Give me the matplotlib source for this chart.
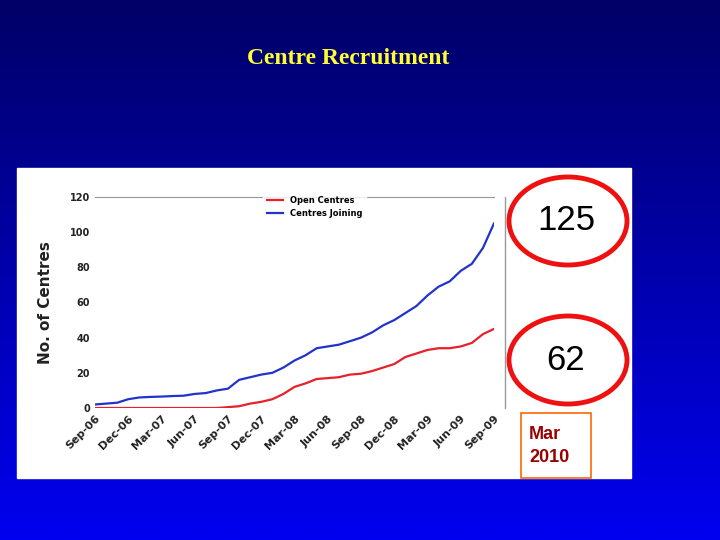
import matplotlib
matplotlib.use("Agg")
import matplotlib.pyplot as plt
import numpy as np
from matplotlib.patches import Ellipse, Rectangle

months = ["Sep-06","Oct-06","Nov-06","Dec-06","Jan-07","Feb-07","Mar-07","Apr-07","May-07","Jun-07","Jul-07","Aug-07",
          "Sep-07","Oct-07","Nov-07","Dec-07","Jan-08","Feb-08","Mar-08","Apr-08","May-08","Jun-08","Jul-08","Aug-08",
          "Sep-08","Oct-08","Nov-08","Dec-08","Jan-09","Feb-09","Mar-09","Apr-09","May-09","Jun-09","Jul-09","Aug-09","Sep-09"]
joining = [2,2.5,3,5,6,6.3,6.5,6.8,7,8,8.5,10,11,16,17.5,19,20,23,27,30,34,35,36,38,40,43,47,50,54,58,64,69,72,78,82,91,105]
open_c = [0,0,0,0,0,0,0,0,0,0,0,0,0.5,1,2.5,3.5,5,8,12,14,16.5,17,17.5,19,19.5,21,23,25,29,31,33,34,34,35,37,42,45]
tick_labels = months[::3]

W, H = 720, 540
fig = plt.figure(figsize=(W/100, H/100), dpi=100)
bg = fig.add_axes([0, 0, 1, 1])
grad = np.linspace(0, 1, 256).reshape(-1, 1)
from matplotlib.colors import LinearSegmentedColormap
cmap = LinearSegmentedColormap.from_list("b", ["#000066", "#0000f0"])
bg.imshow(grad, aspect="auto", cmap=cmap, extent=[0, W, 0, H], origin="lower")
bg.set_xlim(0, W); bg.set_ylim(H, 0); bg.axis("off")

bg.text(348, 58, "Centre Recruitment", color="#ffff33", fontsize=17, fontweight="bold",
        family="Liberation Serif", ha="center", va="center")
bg.add_patch(Rectangle((17, 168), 614, 310, color="white"))

def fx(x): return x / W
def fy(y): return 1 - y / H
ax = fig.add_axes([fx(95), fy(408), fx(494-95), (408-197)/H])
x = np.arange(len(months))
ax.plot(x, open_c, color="#e8202a", lw=1.6, label="Open Centres")
ax.plot(x, joining, color="#2233cc", lw=1.6, label="Centres Joining")
ax.set_xlim(0, len(months)-1)
ax.set_ylim(0, 120)
ax.set_yticks(range(0, 121, 20))
ax.set_xticks(x[::3])
ax.set_xticklabels(tick_labels, rotation=45, ha="right", rotation_mode="anchor", fontsize=8, fontweight="bold", color="#222222")
ax.tick_params(axis="y", labelsize=7, length=0, labelcolor="#222222")
ax.tick_params(axis="x", length=0, pad=4)
for lbl in ax.get_yticklabels(): lbl.set_fontweight("bold")
for s in ["left", "right", "bottom"]: ax.spines[s].set_visible(False)
ax.spines["top"].set_color("#999999")
ax.set_ylabel("No. of Centres", fontsize=11, fontweight="bold", color="#222222", labelpad=12)
ax.patch.set_alpha(0)
leg = ax.legend(loc="upper center", bbox_to_anchor=(0.55, 1.04), fontsize=6, frameon=True, handlelength=2)
leg.get_frame().set_edgecolor("white")
for t in leg.get_texts(): t.set_fontweight("bold")
bg.plot([505, 505], [197, 408], color="#999999", lw=1)

for cy, txt in [(221, "125"), (360, "62")]:
    bg.add_patch(Ellipse((568, cy), 118, 88, facecolor="white", edgecolor="#ee1111", lw=3.5))
    bg.text(566, cy, txt, fontsize=25, family="Liberation Sans", ha="center", va="center", color="black")
bg.add_patch(Rectangle((521, 413), 70, 65, facecolor="white", edgecolor="#ff6600", lw=1.2))
bg.text(529, 446, "Mar\n2010", fontsize=13, fontweight="bold", family="Liberation Sans",
        ha="left", va="center", color="#990000", linespacing=1.4)

fig.savefig("out.png", dpi=100)
